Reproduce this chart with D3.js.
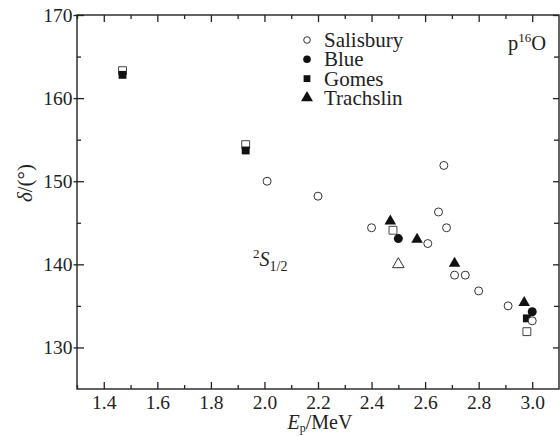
<!DOCTYPE html>
<html>
<head>
<meta charset="utf-8">
<script src="https://cdn.jsdelivr.net/npm/d3@7"></script>
<style>
html, body { margin: 0; padding: 0; background: #fff; }
svg { display: block; }
svg text { font-family: "Liberation Serif", "Times New Roman", Times, "DejaVu Serif", serif; }
</style>
</head>
<body>
<svg id="chart" width="560" height="436"></svg>
<script>
// Data (E_p in MeV, delta in degrees)
const salisburyE = [2.01, 2.20, 2.40, 2.61, 2.65, 2.67, 2.68, 2.71, 2.75, 2.80, 2.91, 3.00];
const salisburyD = [150.0, 148.2, 144.4, 142.5, 146.3, 151.9, 144.4, 138.7, 138.7, 136.8, 135.0, 133.2];
const blueE = [2.50, 3.00];
const blueD = [143.1, 134.3];
const gomesE = [1.47, 1.93, 2.98];
const gomesD = [162.8, 153.7, 133.5];
const gomesOpenE = [1.47, 1.93, 2.48, 2.98];
const gomesOpenD = [163.3, 154.4, 144.1, 131.9];
const trachslinE = [2.47, 2.57, 2.71, 2.97];
const trachslinD = [145.2, 143.0, 140.1, 135.4];
const trachslinOpenE = [2.50];
const trachslinOpenD = [140.0];
const legendLabels = ["Salisbury", "Blue", "Gomes", "Trachslin"];
const xTicks = [1.4, 1.6, 1.8, 2.0, 2.2, 2.4, 2.6, 2.8, 3.0];
const xMinor = [1.3, 1.5, 1.7, 1.9, 2.1, 2.3, 2.5, 2.7, 2.9];
const yTicks = [130, 140, 150, 160, 170];
const yMinor = [135, 145, 155, 165];

const FONT = '"Liberation Serif", "Times New Roman", Times, "DejaVu Serif", serif';
const svg = d3.select("#chart");
const L = 77, R = 559, T = 15, B = 389;
const x = d3.scaleLinear().domain([1.3, 3.1]).range([L, R]);
const y = d3.scaleLinear().domain([125, 170]).range([B, T]);
const ink = "#222";

// frame
svg.append("rect").attr("x", L).attr("y", T).attr("width", R - L).attr("height", B - T)
  .attr("fill", "none").attr("stroke", ink).attr("stroke-width", 1.4);

// bottom axis
const bottom = svg.append("g").attr("transform", `translate(0,${B})`)
  .call(d3.axisBottom(x).tickValues(xTicks).tickSize(-7).tickPadding(6).tickFormat(d3.format(".1f")));
bottom.attr("font-family", FONT).attr("font-size", 19.5);
bottom.select(".domain").remove();
bottom.selectAll(".tick line").attr("stroke", ink).attr("stroke-width", 1.3);
bottom.selectAll("text").attr("fill", ink);
svg.append("g").attr("transform", `translate(0,${B})`)
  .call(d3.axisBottom(x).tickValues(xMinor).tickSize(-4).tickFormat(""))
  .call(g => g.select(".domain").remove())
  .selectAll("line").attr("stroke", ink).attr("stroke-width", 1.3);

// top axis
svg.append("g").attr("transform", `translate(0,${T})`)
  .call(d3.axisTop(x).tickValues(xTicks).tickSize(-7).tickFormat(""))
  .call(g => g.select(".domain").remove())
  .selectAll("line").attr("stroke", ink).attr("stroke-width", 1.3);
svg.append("g").attr("transform", `translate(0,${T})`)
  .call(d3.axisTop(x).tickValues(xMinor).tickSize(-4).tickFormat(""))
  .call(g => g.select(".domain").remove())
  .selectAll("line").attr("stroke", ink).attr("stroke-width", 1.3);

// left axis
const left = svg.append("g").attr("transform", `translate(${L},0)`)
  .call(d3.axisLeft(y).tickValues(yTicks).tickSize(3.5).tickPadding(1.5));
left.attr("font-family", FONT).attr("font-size", 19.5);
left.select(".domain").remove();
left.selectAll(".tick line").attr("stroke", ink).attr("stroke-width", 1.3).attr("x1", -3.5).attr("x2", 7);
left.selectAll("text").attr("fill", ink).attr("x", -4.5);
svg.append("g").attr("transform", `translate(${L},0)`)
  .call(d3.axisLeft(y).tickValues(yMinor).tickSize(-4).tickFormat(""))
  .call(g => g.select(".domain").remove())
  .selectAll("line").attr("stroke", ink).attr("stroke-width", 1.3);

// right axis
svg.append("g").attr("transform", `translate(${R},0)`)
  .call(d3.axisRight(y).tickValues(yTicks).tickSize(-6).tickFormat(""))
  .call(g => g.select(".domain").remove())
  .selectAll("line").attr("stroke", ink).attr("stroke-width", 1.3);
svg.append("g").attr("transform", `translate(${R},0)`)
  .call(d3.axisRight(y).tickValues(yMinor).tickSize(-5).tickFormat(""))
  .call(g => g.select(".domain").remove())
  .selectAll("line").attr("stroke", ink).attr("stroke-width", 1.3);

// markers
const sq = d3.symbol().type(d3.symbolSquare).size(62);
const tri = d3.symbol().type(d3.symbolTriangle).size(58);
const zip = (a, b) => a.map((v, i) => [v, b[i]]);
const pts = svg.append("g");

pts.selectAll(".go").data(zip(gomesOpenE, gomesOpenD)).join("path")
  .attr("d", sq).attr("transform", d => `translate(${x(d[0])},${y(d[1])})`)
  .attr("fill", "#fff").attr("stroke", "#444").attr("stroke-width", 1);
pts.selectAll(".gf").data(zip(gomesE, gomesD)).join("path")
  .attr("d", sq).attr("transform", d => `translate(${x(d[0])},${y(d[1])})`)
  .attr("fill", "#111");
pts.selectAll(".tf").data(zip(trachslinE, trachslinD)).join("path")
  .attr("d", tri).attr("transform", d => `translate(${x(d[0])},${y(d[1])})`)
  .attr("fill", "#111");
pts.selectAll(".to").data(zip(trachslinOpenE, trachslinOpenD)).join("path")
  .attr("d", tri).attr("transform", d => `translate(${x(d[0])},${y(d[1])})`)
  .attr("fill", "#fff").attr("stroke", "#333").attr("stroke-width", 1);
pts.selectAll(".bf").data(zip(blueE, blueD)).join("circle")
  .attr("cx", d => x(d[0])).attr("cy", d => y(d[1])).attr("r", 4.5).attr("fill", "#111");
pts.selectAll(".so").data(zip(salisburyE, salisburyD)).join("circle")
  .attr("cx", d => x(d[0])).attr("cy", d => y(d[1])).attr("r", 4)
  .attr("fill", "#fff").attr("stroke", "#333").attr("stroke-width", 1);

// legend
const lg = svg.append("g");
const lx = 307, ly0 = 40, lstep = 19.3;
lg.append("circle").attr("cx", lx).attr("cy", ly0).attr("r", 3.3).attr("fill", "#fff").attr("stroke", "#333").attr("stroke-width", 1);
lg.append("circle").attr("cx", lx).attr("cy", ly0 + lstep).attr("r", 3.8).attr("fill", "#111");
lg.append("path").attr("d", d3.symbol().type(d3.symbolSquare).size(46)).attr("transform", `translate(${lx},${ly0 + 2 * lstep})`).attr("fill", "#111");
lg.append("path").attr("d", d3.symbol().type(d3.symbolTriangle).size(62)).attr("transform", `translate(${lx},${ly0 + 3 * lstep})`).attr("fill", "#111");
lg.selectAll("text").data(legendLabels).join("text")
  .attr("x", 324).attr("y", (d, i) => ly0 + i * lstep + 7)
  .attr("font-family", FONT).attr("font-size", 21).attr("fill", ink).text(d => d);

// p16O
const pt = svg.append("text").attr("x", 508).attr("y", 50).attr("font-family", FONT).attr("font-size", 20.5).attr("fill", ink);
pt.append("tspan").text("p");
pt.append("tspan").attr("font-size", 13).attr("dy", -8).text("16");
pt.append("tspan").attr("dy", 8).text("O");

// 2S1/2
const st = svg.append("text").attr("x", 253).attr("y", 266).attr("font-family", FONT).attr("font-size", 20).attr("fill", ink);
st.append("tspan").attr("font-size", 13).attr("dy", -8).text("2");
st.append("tspan").attr("dy", 8).attr("font-style", "italic").text("S");
st.append("tspan").attr("font-size", 14).attr("dy", 5).text("1/2");

// x label
const xl = svg.append("text").attr("x", 320).attr("y", 429).attr("text-anchor", "middle")
  .attr("font-family", FONT).attr("font-size", 20).attr("fill", ink);
xl.append("tspan").attr("font-style", "italic").text("E");
xl.append("tspan").attr("font-size", 12).attr("dy", 3).text("p");
xl.append("tspan").attr("dy", -3).text("/MeV");

// y label
const yl = svg.append("text").attr("transform", "translate(32,183) rotate(-90)")
  .attr("text-anchor", "middle").attr("font-family", FONT).attr("font-size", 21).attr("fill", ink);
yl.append("tspan").attr("font-style", "italic").text("δ");
yl.append("tspan").text("/(°)");
</script>
</body>
</html>
